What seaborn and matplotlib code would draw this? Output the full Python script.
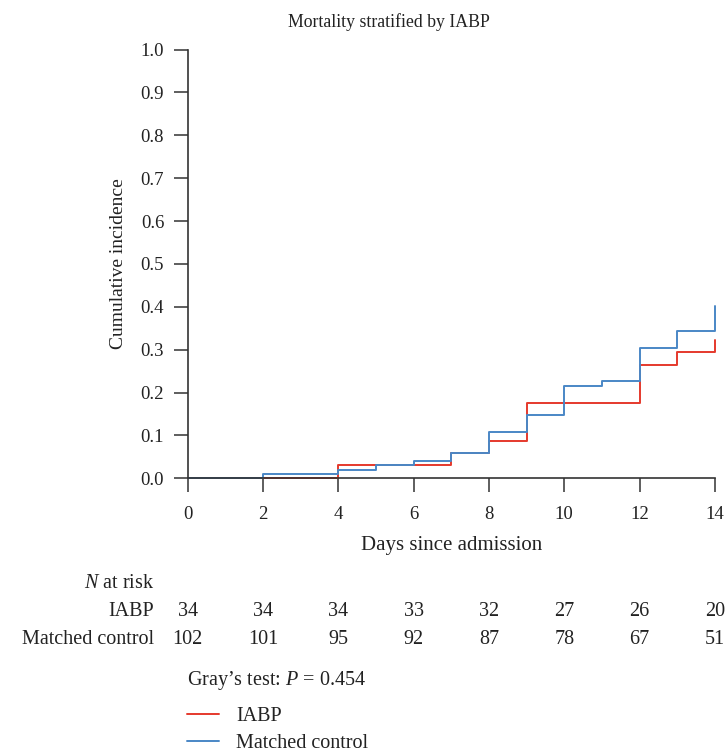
"""
Cumulative incidence of mortality, IABP vs matched control, with N-at-risk table.
"""
import numpy as np
import pandas as pd
import matplotlib
matplotlib.use('Agg')
import matplotlib.pyplot as plt
import matplotlib.transforms as mtransforms
import seaborn as sns

# step curves (day of jump, cumulative incidence after the jump)
iabp_days = [0, 4, 7, 8, 9, 12, 13, 14]
iabp_cif = [0.0, 0.030, 0.059, 0.088, 0.176, 0.265, 0.294, 0.323]
ctrl_days = [0, 2, 4, 5, 6, 7, 8, 9, 10, 11, 12, 13, 14]
ctrl_cif = [0.0, 0.010, 0.020, 0.030, 0.040, 0.059, 0.108, 0.148, 0.215, 0.226, 0.304, 0.344, 0.402]

groups = ['IABP', 'Matched control']
colors = ['#e5392c', '#4a87c6']

risk_days = [0, 2, 4, 6, 8, 10, 12, 14]
risk_iabp = [34, 34, 34, 33, 32, 27, 26, 20]
risk_ctrl = [102, 101, 95, 92, 87, 78, 67, 51]

title = 'Mortality stratified by IABP'
p_text = 'Gray\u2019s test: $P$ = 0.454'

df = pd.concat([
    pd.DataFrame({'day': iabp_days, 'cif': iabp_cif, 'group': groups[0]}),
    pd.DataFrame({'day': ctrl_days, 'cif': ctrl_cif, 'group': groups[1]}),
], ignore_index=True)

sns.set_theme(style='ticks')
plt.rcParams['font.family'] = ['Liberation Serif', 'DejaVu Serif']
plt.rcParams['mathtext.fontset'] = 'custom'
plt.rcParams['mathtext.rm'] = 'Liberation Serif'
plt.rcParams['mathtext.it'] = 'Liberation Serif:italic'
fs = 14.5      # table / legend text
fs_tick = 13.5
fs_title = 12.8
ink = '#222222'

fig = plt.figure(figsize=(7.25, 7.52), dpi=100)
ax = fig.add_axes([0.259, 0.364, 0.727, 0.570])

sns.lineplot(data=df, x='day', y='cif', hue='group', hue_order=groups,
             palette=colors, drawstyle='steps-post', estimator=None,
             linewidth=1.4, legend=False, ax=ax)

ax.set_xlim(0, 14)
ax.set_ylim(0, 1)
ax.set_xticks(risk_days)
ax.set_yticks(np.arange(0, 1.01, 0.1))
ax.set_yticklabels([f'{v:.1f}' for v in np.arange(0, 1.01, 0.1)])
ax.tick_params(direction='out', length=10, width=1.1, color='#333333',
               labelsize=fs_tick, labelcolor=ink)
ax.tick_params(axis='y', pad=7)
ax.tick_params(axis='x', pad=10)
for s in ['top', 'right']:
    ax.spines[s].set_visible(False)
for s in ['left', 'bottom']:
    ax.spines[s].set_linewidth(1.2)
    ax.spines[s].set_color('#333333')
for ln in ax.lines:
    ln.set_clip_on(False)

ax.set_xlabel('Days since admission', fontsize=15, color=ink, labelpad=9)
ax.set_ylabel('Cumulative incidence', fontsize=14, color=ink, labelpad=10)
fig.text(0.537, 1 - 22 / 752, title, ha='center', va='center', fontsize=fs_title, color=ink)

# N at risk table
trans = mtransforms.blended_transform_factory(ax.transData, fig.transFigure)
lab_x = 0.213
fig.text(lab_x, 1 - 584 / 752, '$N$ at risk', ha='right', va='center', fontsize=fs, color=ink)
rows = [(groups[0], risk_iabp, 1 - 612 / 752), (groups[1], risk_ctrl, 1 - 640 / 752)]
for name, counts, yy in rows:
    fig.text(lab_x, yy, name, ha='right', va='center', fontsize=fs, color=ink)
    for d, n in zip(risk_days, counts):
        ax.text(d, yy, str(n), transform=trans, ha='center', va='center',
                fontsize=fs, color=ink, clip_on=False)

fig.text(0.258, 1 - 681 / 752, p_text, ha='left', va='center', fontsize=fs, color=ink)

leg = ax.legend(ax.lines[:2], groups, loc='upper left',
                bbox_to_anchor=(0.258, 1 - 707 / 752), bbox_transform=fig.transFigure,
                frameon=False, fontsize=fs, handlelength=1.6, handletextpad=0.85,
                labelspacing=0.38, borderpad=0, borderaxespad=0)
for t in leg.get_texts():
    t.set_color(ink)

fig.savefig('out.png', dpi=100)
plt.close(fig)
